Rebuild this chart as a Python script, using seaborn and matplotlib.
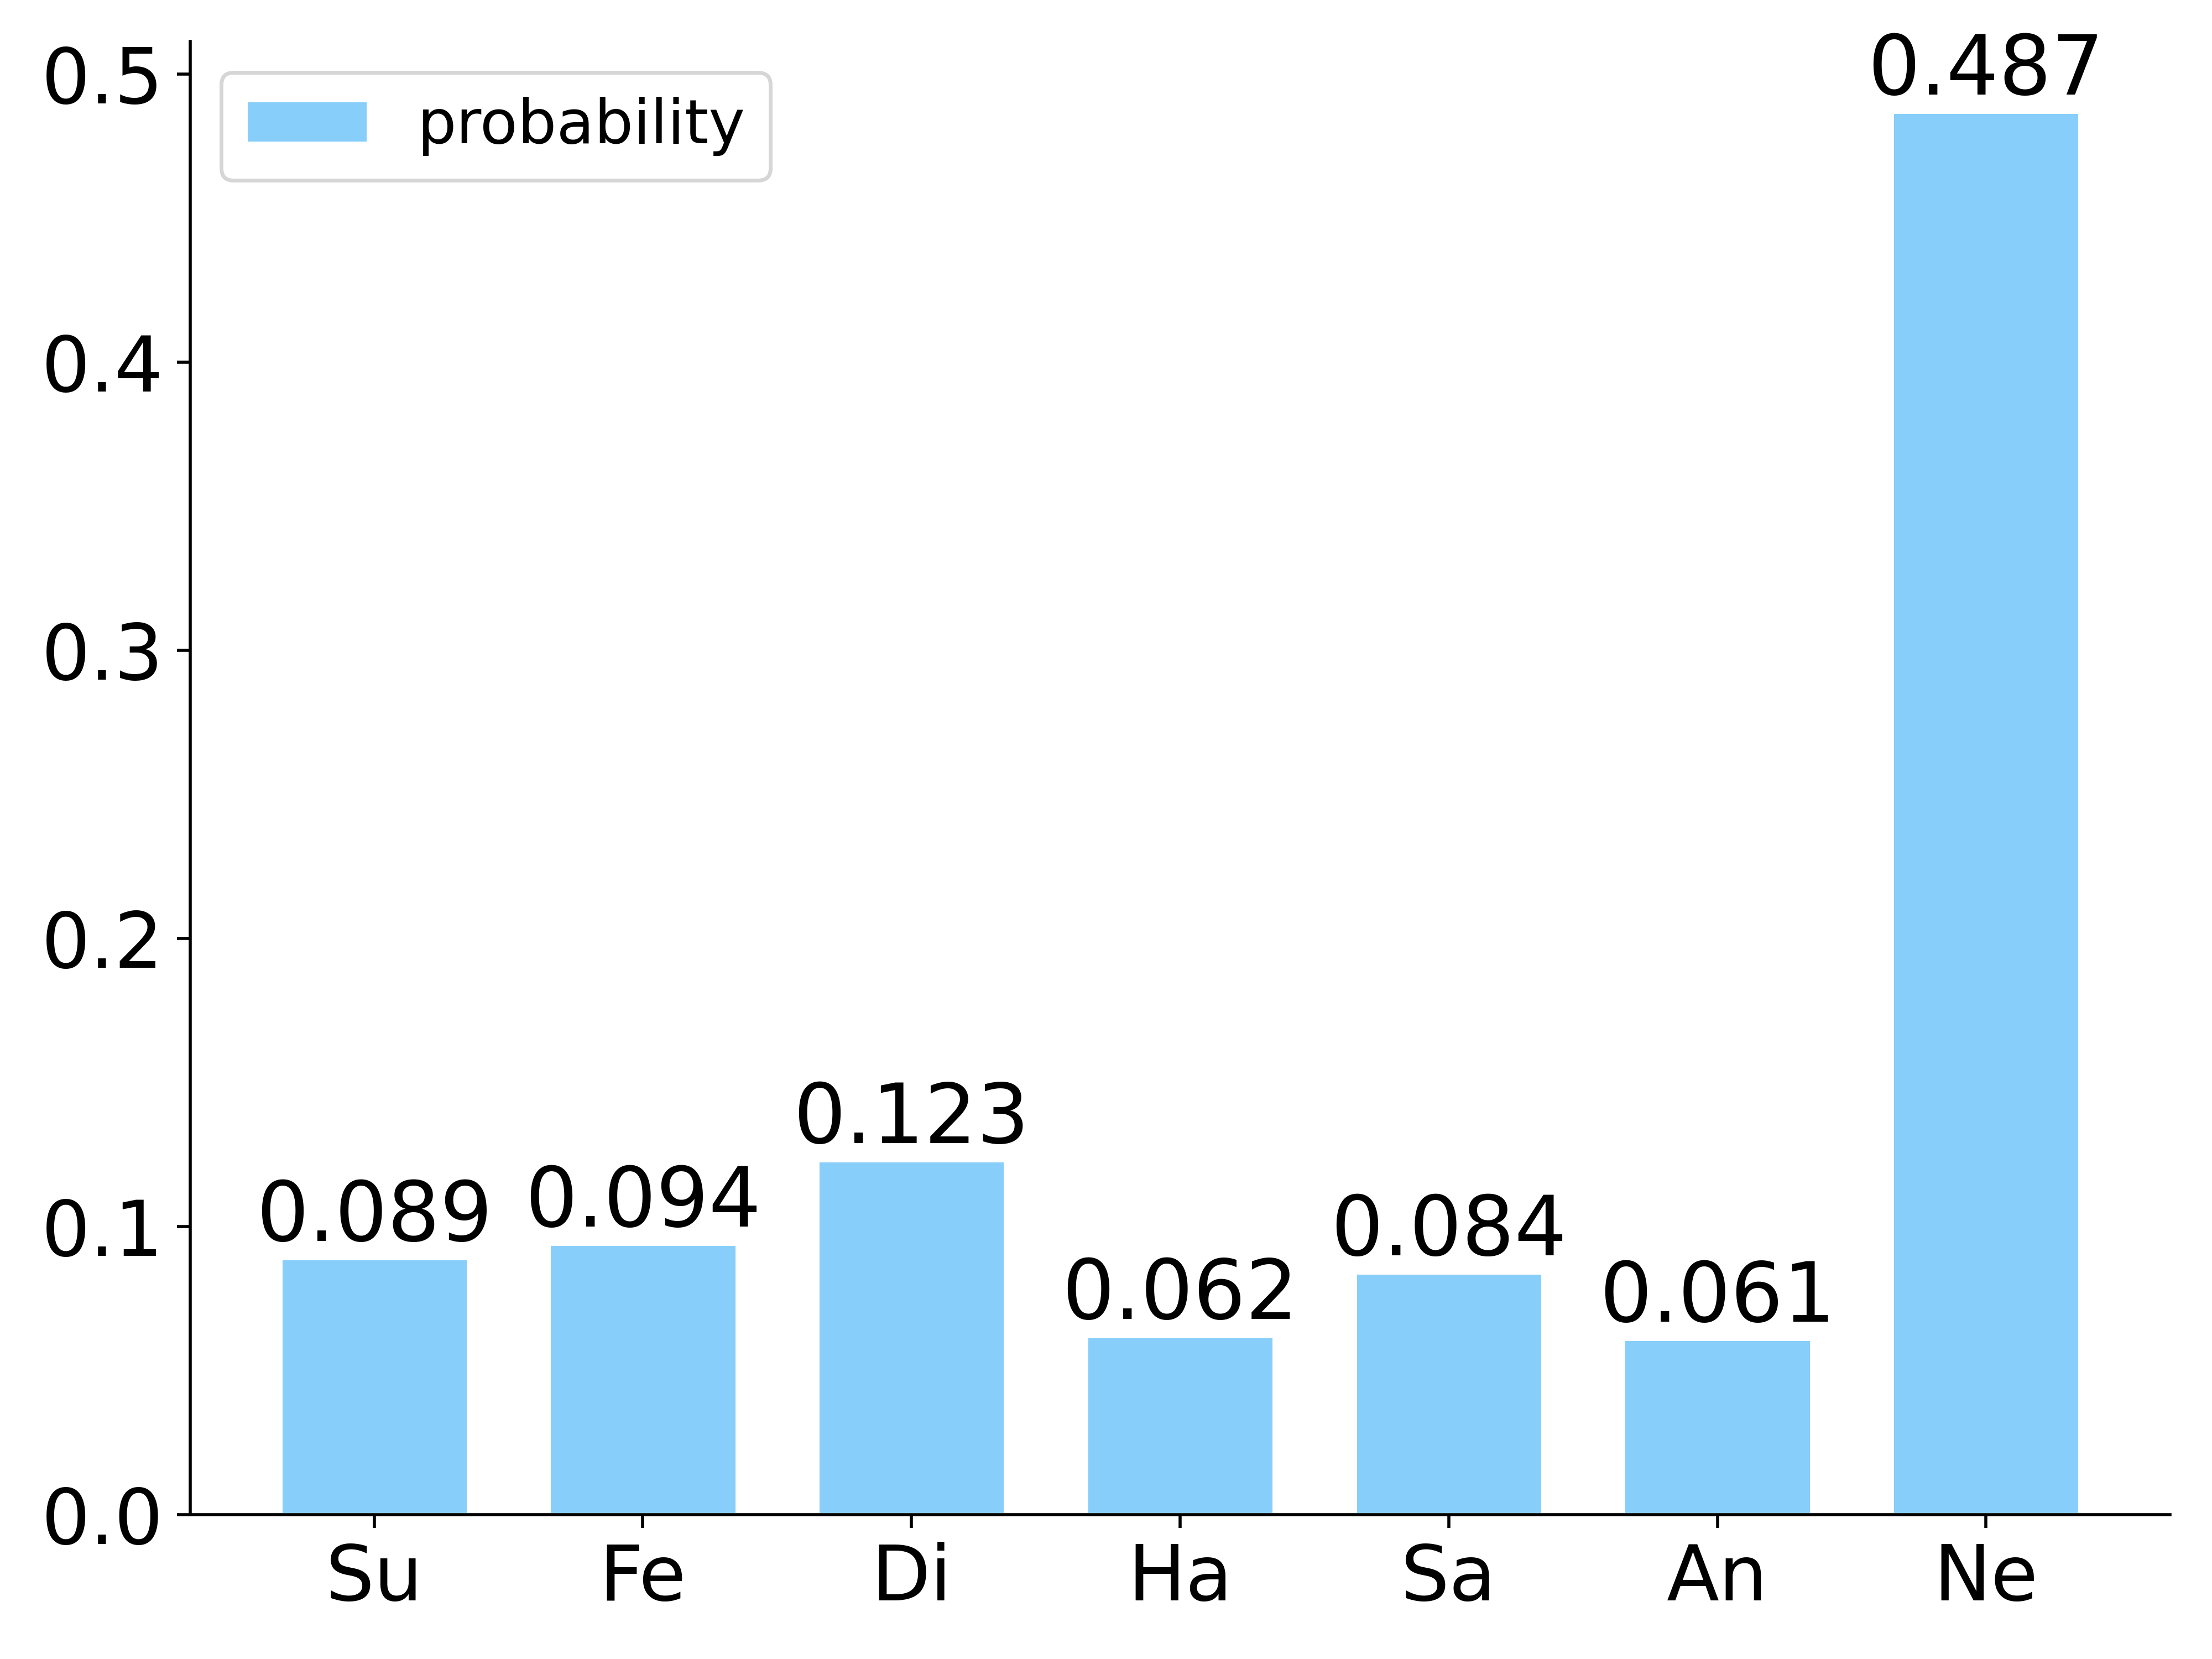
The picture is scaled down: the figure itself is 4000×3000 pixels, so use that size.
import matplotlib
matplotlib.use("Agg")
import matplotlib.pyplot as plt
import seaborn as sns
import pandas as pd

labels = ["Su", "Fe", "Di", "Ha", "Sa", "An", "Ne"]
probability = [0.089, 0.094, 0.123, 0.062, 0.084, 0.061, 0.487]

df = pd.DataFrame({"emotion": labels, "probability": probability})

sns.set_style("ticks")
plt.rcParams["font.family"] = ["DejaVu Sans"]
for key in ["text.color", "axes.labelcolor", "xtick.color", "ytick.color", "axes.edgecolor"]:
    plt.rcParams[key] = "black"

fig, ax = plt.subplots(figsize=(8, 6))
sns.barplot(data=df, x="emotion", y="probability", color="#87CEFA",
            saturation=1, width=0.7, label="probability", ax=ax)

for c in ax.containers:
    ax.bar_label(c, fmt="%.3f", fontsize=21.5, padding=0)

ax.set_xlabel("")
ax.set_ylabel("")
ax.tick_params(axis="both", labelsize=20)
ax.set_xlim(-0.685, len(labels) - 1 + 0.685)
ax.margins(y=0.05)
sns.despine(ax=ax)
ax.legend(loc="upper left", fontsize=16, handlelength=2)

fig.subplots_adjust(left=0.086, right=0.981, top=0.975, bottom=0.087)
plt.savefig("out.png", dpi=500)
